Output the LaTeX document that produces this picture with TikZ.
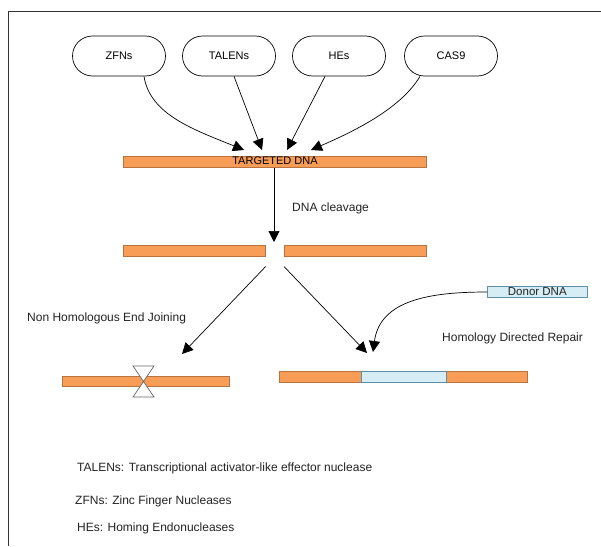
\documentclass[tikz,border=0pt]{standalone}
\usepackage{fontspec}
\setmainfont{Liberation Sans}
\usetikzlibrary{arrows.meta}
\definecolor{dnaor}{HTML}{F79D57}
\definecolor{dnaorl}{HTML}{B8733F}
\definecolor{dnabl}{HTML}{D6EDF5}
\definecolor{dnabll}{HTML}{5E8FA6}
\definecolor{frame}{HTML}{333333}
\definecolor{txt}{HTML}{222222}
\begin{document}
\begin{tikzpicture}[x=1pt,y=-1pt,
  tool/.style={draw, line width=0.7pt, rounded corners=20pt, minimum width=93pt, minimum height=40pt, inner sep=0pt, font=\fontsize{11}{13}\selectfont},
  dna/.style={draw=dnaorl, fill=dnaor, minimum height=10.5pt, inner sep=0pt, line width=0.6pt, anchor=west},
  donor/.style={draw=dnabll, fill=dnabl, minimum height=10.5pt, inner sep=0pt, line width=0.6pt, anchor=west},
  arr/.style={-{Triangle[length=11pt,width=11pt]}, line width=0.7pt},
  lbl/.style={font=\fontsize{12}{14}\selectfont, text=txt, inner sep=0pt, anchor=west},
  hg/.style={draw=black!60, fill=white, line width=0.7pt}
]
\useasboundingbox (0,0) rectangle (601,546);
% frame
\draw[frame, line width=0.8pt] (601,11) -- (8,11) -- (8,546);
% tools
\node[tool] (zfn) at (119,56) {ZFNs};
\node[tool] (tal) at (229,56) {TALENs};
\node[tool] (hes) at (339,56) {HEs};
\node[tool] (cas) at (451,56) {CAS9};
% targeted DNA
\node[dna, minimum width=303pt] (tdna) at (123,162) {};
\node[font=\fontsize{11}{13}\selectfont, inner sep=0pt] (tdnat) at (275,161) {TARGETED DNA};
\coordinate (t1) at (244,150);
\coordinate (t2) at (262,150);
\coordinate (t3) at (287,150);
\coordinate (t4) at (311,150);
\draw[arr] (zfn.south) ++(25,0) .. controls (150,115) and (195,130) .. (t1);
\draw[arr] (tal.south) ++(5,0) -- (t2);
\draw[arr] (hes.south) ++(-14,0) -- (t3);
\draw[arr] (cas.south) ++(-31,0) .. controls (400,110) and (350,133) .. (t4);
% cleavage
\coordinate (c1) at (274,242);
\draw[arr] (tdna.south -| c1) -- (c1);
\node[lbl] (clv) at (292,208) {DNA cleavage};
% broken bars
\node[dna, minimum width=142pt] (bl) at (123,251) {};
\node[dna, minimum width=142pt] (br) at (284,251) {};
\coordinate (n1) at (182,354);
\coordinate (h1) at (367,353);
\draw[arr] (bl.south east) ++(0,10) -- (n1);
\draw[arr] (br.south west) ++(0,10) -- (h1);
\node[lbl] (nhej) at (27,318) {Non Homologous End Joining};
\node[lbl] (hdr) at (442,338) {Homology Directed Repair};
% donor
\node[donor, minimum width=100pt, font=\fontsize{11.5}{13}\selectfont, text=txt] (don) at (487,292) {Donor DNA};
\coordinate (h2) at (373,352);
\draw[arr] (don.west) .. controls (430,292) and (380,300) .. (h2);
% NHEJ result
\node[dna, minimum width=167pt] (nb) at (62,381.5) {};
\draw[hg] (133,366) -- (154,366) -- (143.5,381.5) -- cycle;
\draw[hg] (133,397) -- (154,397) -- (143.5,381.5) -- cycle;
% HDR result
\node[dna, minimum width=248pt] (hb) at (279,377) {};
\node[donor, minimum width=85pt] (hbi) at (361,377) {};
% legend
\node[lbl] (l1) at (77,468) {TALENs: Transcriptional activator-like effector nuclease};
\node[lbl] (l2) at (75,501) {ZFNs: Zinc Finger Nucleases};
\node[lbl] (l3) at (77,528) {HEs: Homing Endonucleases};
\end{tikzpicture}
\end{document}
